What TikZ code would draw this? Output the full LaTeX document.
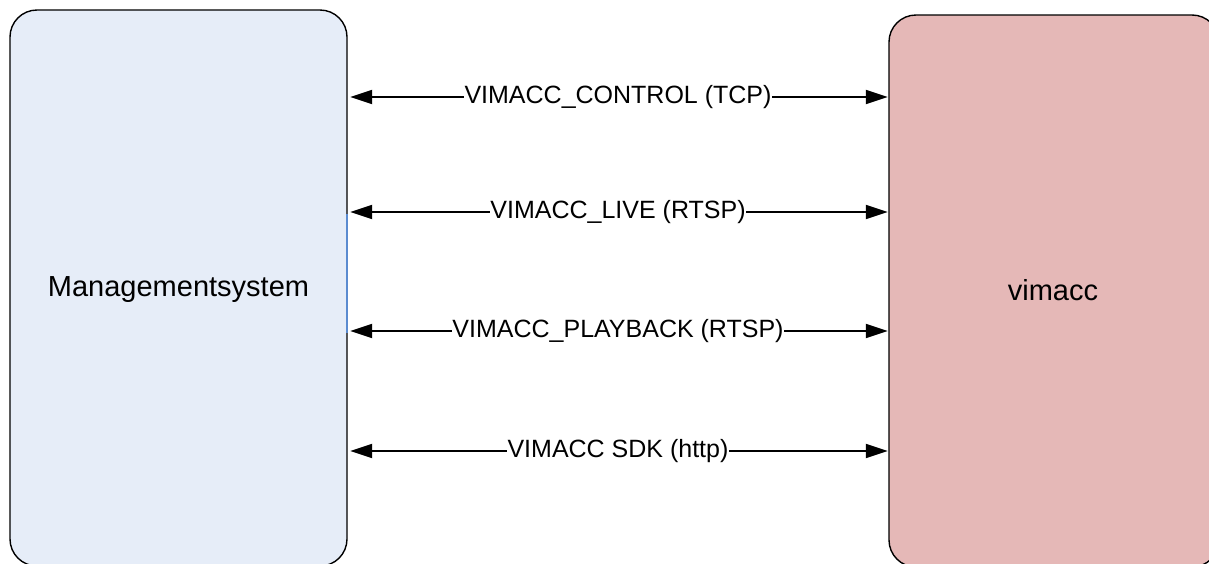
\documentclass[tikz,border=0pt]{standalone}
\usepackage{fontspec}
\setmainfont{Liberation Sans}
\usetikzlibrary{arrows.meta}
\definecolor{mgmtfill}{HTML}{E6EDF8}
\definecolor{vimfill}{HTML}{E5B8B7}
\definecolor{selblue}{HTML}{5B8BD0}
\tikzset{
  sysbox/.style={draw=black, line width=1.4pt, rounded corners=27pt, inner sep=0pt},
  conn/.style={line width=2pt, {Triangle[length=22pt,width=14pt]}-{Triangle[length=22pt,width=14pt]}, shorten <=2.5pt, shorten >=0.5pt},
  lbl/.style={fill=white, inner xsep=0.5pt, inner ysep=2pt, font=\fontsize{25}{30}\selectfont},
  boxtext/.style={font=\fontsize{29}{34}\selectfont}
}
\begin{document}
\begin{tikzpicture}[x=1pt,y=-1pt]
\clip (0,0) rectangle (1209,563);
\fill[white] (0,0) rectangle (1209,563);
\node[sysbox, fill=mgmtfill, minimum width=337pt, minimum height=556pt] (M) at (178.5,288) {};
\node[boxtext] (Mt) at (178.5,290) {Managementsystem};
\node[sysbox, fill=vimfill, minimum width=330pt, minimum height=552pt] (V) at (1054,291) {};
\node[boxtext] (Vt) at (1053,290) {vimacc};
\coordinate (sa) at (347,214);
\coordinate (sb) at (347,333);
\draw[selblue, line width=1.4pt] (sa) -- (sb);
\coordinate (y1) at (0,97);
\coordinate (y2) at (0,212);
\coordinate (y3) at (0,331);
\coordinate (y4) at (0,451);
\draw[conn] (M.east |- y1) -- node[lbl] (l1) {VIMACC\_CONTROL (TCP)} (V.west |- y1);
\draw[conn] (M.east |- y2) -- node[lbl] (l2) {VIMACC\_LIVE (RTSP)} (V.west |- y2);
\draw[conn] (M.east |- y3) -- node[lbl] (l3) {VIMACC\_PLAYBACK (RTSP)} (V.west |- y3);
\draw[conn] (M.east |- y4) -- node[lbl] (l4) {VIMACC SDK (http)} (V.west |- y4);
\end{tikzpicture}
\end{document}
